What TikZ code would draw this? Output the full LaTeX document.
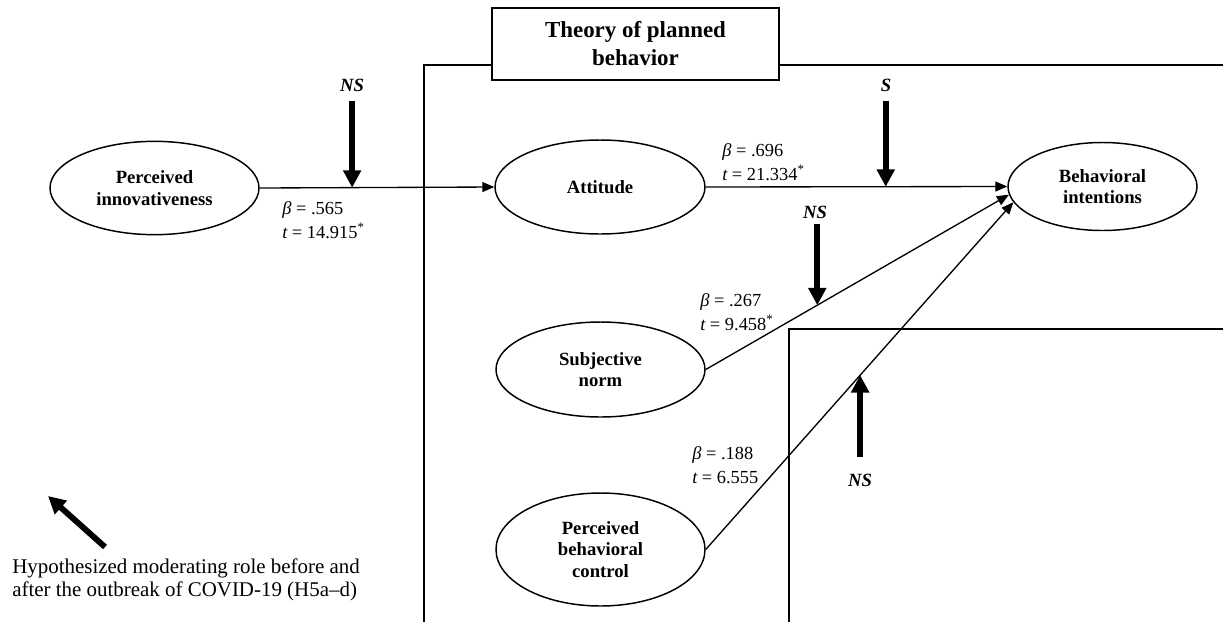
\documentclass[tikz,border=0pt]{standalone}
\usepackage{fontspec}
\setmainfont{Liberation Serif}
\usetikzlibrary{shapes.geometric,arrows.meta,calc}
\begin{document}
\begin{tikzpicture}[x=0.75pt,y=-0.75pt,
  latent/.style={ellipse, draw, line width=1.1pt, inner sep=0pt, align=center,
    font=\fontsize{14}{16.2}\selectfont\bfseries},
  conn/.style={line width=1pt, -{Triangle[length=9pt,width=7.5pt]}},
  mod/.style={line width=4.4pt, -{Triangle[length=13pt,width=13pt]}},
  frame/.style={line width=1.1pt},
  lab/.style={align=left, anchor=west, inner sep=0pt, font=\fontsize{13.8}{17.8}\selectfont},
  sig/.style={inner sep=0pt, font=\fontsize{14}{16}\selectfont\bfseries\itshape}
]
\useasboundingbox (0,0) rectangle (1223,622);

% frames
\draw[frame] (424,622) -- (424,65) -- (1223,65);
\draw[frame] (789,622) -- (789,329) -- (1223,329);
\node[draw, fill=white, line width=1.1pt, minimum width=215.25pt, minimum height=54pt,
  align=center, inner sep=0pt, font=\fontsize{17.2}{21}\selectfont\bfseries]
  (tpb) at (635.5,44) {Theory of planned\\behavior};

% constructs
\node[latent, minimum width=156.75pt, minimum height=70pt] (PI) at (154.5,188) {Perceived\\innovativeness};
\node[latent, minimum width=157.5pt, minimum height=70.5pt] (Att) at (600,187) {Attitude};
\node[latent, minimum width=141.75pt, minimum height=66pt] (BI) at (1102.5,186.5) {Behavioral\\intentions};
\node[latent, minimum width=156.75pt, minimum height=71.25pt] (SN) at (600.5,369.5) {Subjective\\norm};
\node[latent, minimum width=156.75pt, minimum height=84.75pt] (PBC) at (600.5,549.5) {Perceived\\behavioral\\control};

% paths
\draw[conn] (PI.east) -- coordinate[pos=0.394] (m1) (Att.west);
\draw[conn] (Att.east) -- coordinate[pos=0.597] (m2) (BI.west);
\draw[conn] (SN.east) -- coordinate[pos=0.368] (m3) (BI.185);
\draw[conn] (PBC.east) -- coordinate[pos=0.502] (m4) (BI.190);

% path coefficients
\node[lab] (l1) at (282,220) {{\itshape β} = .565\\{\itshape t} = 14.915\textsuperscript{*}};
\node[lab] (l2) at (722,162.5) {{\itshape β} = .696\\{\itshape t} = 21.334\textsuperscript{*}};
\node[lab] (l3) at (700,312) {{\itshape β} = .267\\{\itshape t} = 9.458\textsuperscript{*}};
\node[lab] (l4) at (692,465) {{\itshape β} = .188\\{\itshape t} = 6.555};

% moderating arrows
\coordinate (s1) at ($(m1)+(0,-87)$);
\coordinate (s2) at ($(m2)+(0,-86)$);
\coordinate (s3) at ($(m3)+(0,-81)$);
\coordinate (s4) at ($(m4)+(0,82)$);
\draw[mod] (s1) -- (m1);
\draw[mod] (s2) -- (m2);
\draw[mod] (s3) -- (m3);
\draw[mod] (s4) -- (m4);
\node[sig] (n1) at (352,85) {NS};
\node[sig] (n2) at (886,85) {S};
\node[sig] (n3) at (815,212) {NS};
\node[sig] (n4) at (860,480) {NS};

% legend
\coordinate (g1) at (105,547);
\coordinate (g2) at (48,496);
\draw[mod] (g1) -- (g2);
\node[align=left, anchor=west, inner sep=0pt, font=\fontsize{15.7}{16.8}\selectfont] (leg) at (12,580)
  {Hypothesized moderating role before and\\after the outbreak of COVID-19 (H5a–d)};
\end{tikzpicture}
\end{document}
